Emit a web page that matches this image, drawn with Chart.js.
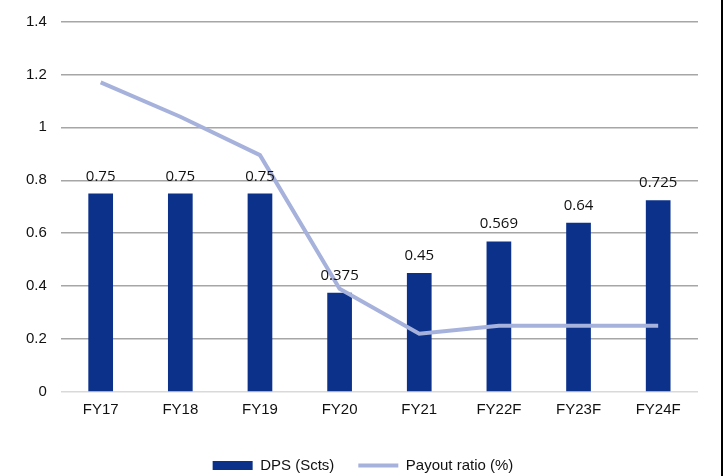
<!DOCTYPE html>
<html>
<head>
<meta charset="utf-8">
<script src="https://cdn.jsdelivr.net/npm/chart.js@4.4.0/dist/chart.umd.min.js"></script>
<style>
  html, body { margin: 0; padding: 0; background: #fff; }
  .wrap { width: 721px; height: 476px; border-right: 2px solid #000; position: relative; }
</style>
</head>
<body>
<div class="wrap"><canvas id="dps"></canvas></div>
<script>
const years = ['FY17', 'FY18', 'FY19', 'FY20', 'FY21', 'FY22F', 'FY23F', 'FY24F'];
const dps = [0.75, 0.75, 0.75, 0.375, 0.45, 0.569, 0.64, 0.725];
const payout = [1.17, 1.04, 0.895, 0.39, 0.22, 0.25, 0.25, 0.25];
const yTicks = [0, 0.2, 0.4, 0.6, 0.8, 1, 1.2, 1.4];

// value labels above each bar
const barLabels = {
  id: 'barLabels',
  afterDatasetsDraw(chart) {
    const ctx = chart.ctx;
    const meta = chart.getDatasetMeta(1);
    ctx.save();
    ctx.font = '15px "Open Sans", sans-serif';
    ctx.fillStyle = '#111';
    ctx.textAlign = 'center';
    ctx.textBaseline = 'alphabetic';
    meta.data.forEach((bar, i) => {
      ctx.fillText(String(dps[i]), bar.x, bar.y - 13);
    });
    ctx.restore();
  }
};

// nudge the legend a little to the right
const legendShift = {
  id: 'legendShift',
  afterLayout(chart) {
    const lg = chart.legend;
    if (!lg) return;
    lg.left += 8;
    lg.right += 8;
  }
};

new Chart(document.getElementById('dps'), {
  data: {
    labels: years,
    datasets: [
      {
        type: 'line',
        label: 'Payout ratio (%)',
        data: payout,
        borderColor: '#a6b2dc',
        backgroundColor: '#a6b2dc',
        borderWidth: 4,
        pointRadius: 0,
        tension: 0,
        order: 0
      },
      {
        type: 'bar',
        label: 'DPS (Scts)',
        data: dps,
        backgroundColor: '#0b318b',
        borderWidth: 0,
        barPercentage: 0.62,
        categoryPercentage: 0.5,
        order: 1
      }
    ]
  },
  options: {
    responsive: true,
    maintainAspectRatio: false,
    animation: false,
    layout: { padding: { top: 20, right: 23, left: 12, bottom: -7 } },
    scales: {
      x: {
        grid: { display: false, drawTicks: false },
        border: { display: false },
        afterFit(scale) { scale.height += 6; },
        ticks: { color: '#111', font: { family: 'Liberation Sans', size: 15 }, padding: 9 }
      },
      y: {
        min: 0,
        max: 1.4,
        afterBuildTicks(axis) { axis.ticks = yTicks.map(v => ({ value: v })); },
        border: { display: false },
        grid: {
          drawTicks: false,
          lineWidth: 1.5,
          color: c => (c.tick && c.tick.value === 0 ? '#d9d9d9' : '#a6a6a6')
        },
        ticks: {
          color: '#111',
          font: { family: 'Liberation Sans', size: 15, lineHeight: 1 },
          padding: 14,
          callback: v => String(v)
        }
      }
    },
    plugins: {
      tooltip: { enabled: false },
      legend: {
        position: 'bottom',
        reverse: true,
        labels: {
          usePointStyle: true,
          pointStyleWidth: 40,
          boxHeight: 9,
          padding: 24,
          color: '#111',
          font: { family: 'Liberation Sans', size: 15 },
          generateLabels(chart) {
            const items = Chart.defaults.plugins.legend.labels.generateLabels(chart);
            items.forEach(it => {
              it.pointStyle = it.datasetIndex === 1 ? 'rect' : 'line';
            });
            return items;
          }
        }
      }
    }
  },
  plugins: [barLabels, legendShift]
});
</script>
</body>
</html>
